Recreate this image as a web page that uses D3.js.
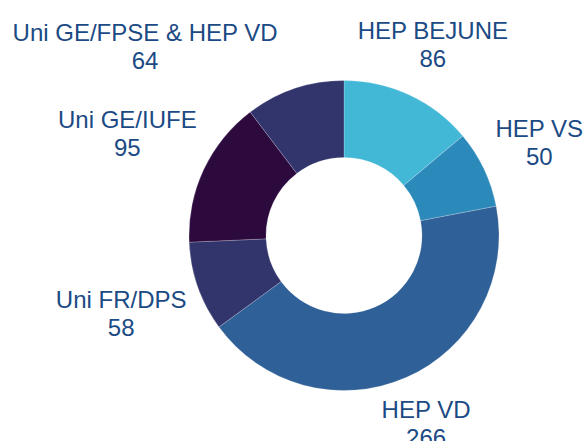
<!DOCTYPE html>
<html>
<head>
<meta charset="utf-8">
<script src="https://cdn.jsdelivr.net/npm/d3@7.9.0/dist/d3.min.js"></script>
<style>
  body { margin: 0; background: #fff; }
  svg { display: block; }
  .lbl { font-family: "Liberation Sans", Arial, sans-serif; font-size: 24px; fill: #1b4a84; }
</style>
</head>
<body>
<svg id="chart" width="584" height="441"></svg>
<script>
const labels = ['HEP BEJUNE', 'HEP VS', 'HEP VD', 'Uni FR/DPS', 'Uni GE/IUFE', 'Uni GE/FPSE & HEP VD'];
const counts = [86, 50, 266, 58, 95, 64];
const colors = ['#42b7d6', '#2c8abb', '#2f6098', '#32346c', '#2c0a3e', '#32346c'];

// labels moved by hand in the original (FPSE would otherwise collide with HEP BEJUNE)
const labelAngleShift = { 'Uni GE/FPSE & HEP VD': -28 };
const labelDistShift = { 'HEP BEJUNE': -9, 'Uni GE/FPSE & HEP VD': -5 };

const width = 584, height = 441;
const cx = 344, cy = 235.5;
const outerR = 155, innerR = 78;
const labelGap = 167;

const data = labels.map((l, i) => ({ label: l, value: counts[i], color: colors[i] }));

const svg = d3.select('#chart');
const g = svg.append('g').attr('transform', `translate(${cx},${cy})`);

let pie = d3.pie().sort(null).value(d => d.value);
let arc = d3.arc().innerRadius(innerR).outerRadius(outerR);
let arcs = pie(data);

g.selectAll('path')
  .data(arcs)
  .join('path')
  .attr('d', arc)
  .attr('fill', d => d.data.color)
  .attr('stroke', '#ffffff')
  .attr('stroke-opacity', 0.35)
  .attr('stroke-width', 0.6);

// labels: two lines, centred, pushed out along the mid angle until the box clears the ring
arcs.forEach(d => {
  let t = g.append('text').attr('class', 'lbl').attr('text-anchor', 'middle');
  t.append('tspan').attr('x', 0).attr('y', -6).text(d.data.label);
  t.append('tspan').attr('x', 0).attr('y', 22).text(d.data.value);

  let w = t.node().getBBox().width;
  let h = 45;
  let mid = (d.startAngle + d.endAngle) / 2 + (labelAngleShift[d.data.label] || 0) * Math.PI / 180;
  let s = Math.sin(mid), c = Math.cos(mid);
  let dist = labelGap + Math.abs(s) * w / 2 + Math.abs(c) * h / 2 + (labelDistShift[d.data.label] || 0);
  t.attr('transform', `translate(${s * dist},${-c * dist})`);
});
</script>
</body>
</html>
